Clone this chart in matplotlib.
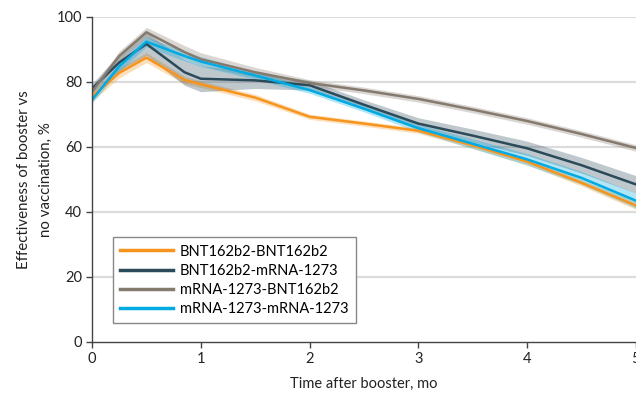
import numpy as np
import matplotlib.pyplot as plt

plt.rcParams['font.family'] = ['Lato', 'DejaVu Sans']

# months after booster
t = [0, 0.25, 0.5, 0.85, 1, 1.5, 2, 2.5, 3, 3.5, 4, 4.5, 5]

names = ['BNT162b2-BNT162b2', 'BNT162b2-mRNA-1273',
         'mRNA-1273-BNT162b2', 'mRNA-1273-mRNA-1273']

bnt_bnt = [75.5, 82.8, 87.5, 80.6, 79.3, 75.2, 69.3, 67.2, 65.0, 60.5, 55.5, 49.0, 42.0]
bnt_mrna = [78.0, 86.0, 91.7, 83.0, 81.0, 80.5, 79.0, 73.0, 67.2, 63.5, 59.6, 54.4, 48.5]
mrna_bnt = [77.0, 88.0, 95.3, 89.2, 87.0, 83.0, 79.7, 77.4, 74.8, 71.5, 68.0, 64.0, 59.7]
mrna_mrna = [74.5, 84.8, 92.4, 88.0, 86.3, 82.0, 77.5, 71.8, 65.8, 61.0, 56.2, 50.5, 43.5]

# half width of the confidence bands
ci_bnt_bnt = [1.5, 1.5, 1.5, 1.2, 1.0, 1.0, 0.8, 0.8, 0.8, 0.9, 1.0, 1.0, 1.2]
ci_bnt_mrna = [1.5, 2.5, 3.5, 4.0, 4.0, 2.5, 1.5, 1.5, 1.8, 2.0, 2.2, 2.4, 2.7]
ci_mrna_bnt = [1.2, 1.5, 1.5, 2.0, 2.0, 1.5, 1.0, 1.0, 1.0, 1.0, 1.0, 1.0, 1.0]
ci_mrna_mrna = [1.0, 1.5, 1.5, 1.5, 1.5, 1.2, 1.0, 1.0, 1.2, 1.5, 1.8, 2.0, 2.3]

series = [bnt_bnt, bnt_mrna, mrna_bnt, mrna_mrna]
bands = [ci_bnt_bnt, ci_bnt_mrna, ci_mrna_bnt, ci_mrna_mrna]
colors = ['#F7941D', '#2B4A5A', '#857A6E', '#00AAE2']

fig = plt.figure(figsize=(6.36, 3.96), dpi=100)
ax = fig.add_axes([0.1447, 0.1364, 0.855, 0.8207])

for y in [20, 40, 60, 80, 100]:
    ax.axhline(y, color='#dcdcdc', lw=1.6, zorder=0)

x = np.array(t)
for y, ci, c in zip(series, bands, colors):
    y = np.array(y)
    ci = np.array(ci)
    ax.fill_between(x, y - ci, y + ci, color=c, alpha=0.3, lw=0, zorder=1)

for y, c, n in zip(series, colors, names):
    ax.plot(x, y, color=c, lw=1.8, label=n, zorder=2)

ax.set_xlim(0, 5)
ax.set_ylim(0, 100)
ax.set_xticks([0, 1, 2, 3, 4, 5])
ax.set_yticks([0, 20, 40, 60, 80, 100])

for s in ['top', 'right']:
    ax.spines[s].set_visible(False)
for s in ['left', 'bottom']:
    ax.spines[s].set_color('#444444')
    ax.spines[s].set_linewidth(1.0)
ax.tick_params(direction='out', length=4, width=1, color='#444444',
               labelsize=10.5, labelcolor='#222222', pad=3)

ax.set_xlabel('Time after booster, mo', fontsize=10.5, color='#222222', labelpad=8)
ax.set_ylabel('Effectiveness of booster vs\nno vaccination, %', fontsize=10.8,
              color='#222222', labelpad=3, linespacing=1.65)

leg = ax.legend(loc='lower left', bbox_to_anchor=(0.0386, 0.058), borderaxespad=0,
                fontsize=10.5, frameon=True, fancybox=False, handlelength=3.6,
                labelspacing=0.35, borderpad=0.5, handletextpad=0.5)
leg.get_frame().set_edgecolor('#888888')
leg.get_frame().set_linewidth(1.0)
leg.get_frame().set_alpha(1)
for line in leg.get_lines():
    line.set_linewidth(2.5)

fig.savefig('out.png', dpi=100)
